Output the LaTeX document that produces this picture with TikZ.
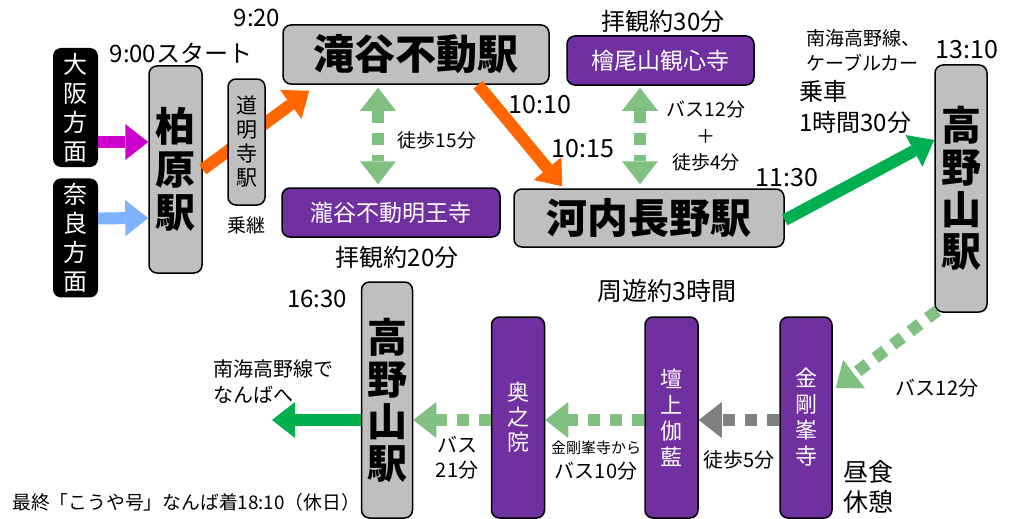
\documentclass[tikz,border=0pt]{standalone}
\usepackage{fontspec}
\setmainfont{Noto Sans CJK JP}
\usetikzlibrary{arrows.meta,positioning}

\definecolor{stngray}{HTML}{BFBFBF}
\definecolor{tmplpurple}{HTML}{7030A0}
\definecolor{arrorange}{HTML}{FF6600}
\definecolor{arrgreen}{HTML}{00B050}
\definecolor{arrlight}{HTML}{80C080}
\definecolor{arrgray}{HTML}{808080}
\definecolor{arrmag}{HTML}{CC00CC}
\definecolor{arrblue}{HTML}{7EB2FF}

\newcommand\fsz[2]{\fontsize{#1}{#2}\selectfont}

\tikzset{
  bigtip/.tip={Triangle[length=23pt,width=36pt,line width=0pt]},
  stn/.style={draw, line width=1.5pt, fill=stngray, rounded corners=8pt, inner sep=0pt, align=center},
  tmpl/.style={draw, line width=1.5pt, fill=tmplpurple, text=white, rounded corners=8pt, inner sep=0pt, align=center},
  dirbox/.style={fill=black, text=white, rounded corners=8pt, inner sep=0pt, align=center},
  lbl/.style={inner sep=0pt},
  fat/.style={line width=12pt, -bigtip},
  dots/.style={fat, dash pattern=on 12pt off 10pt},
  twoway/.style={line width=12pt, bigtip-bigtip, dash pattern=on 12pt off 10pt, arrlight},
}

\begin{document}
\begin{tikzpicture}[x=1pt, y=-1pt]
  \useasboundingbox (0,0) rectangle (1009,519);

  % boxes
  \node[dirbox, minimum width=45pt, minimum height=119pt, font=\fsz{24}{29}] (Osaka) at (75.5,107.5) {大\\阪\\方\\面};
  \node[dirbox, minimum width=45pt, minimum height=119pt, font=\fsz{24}{29}] (Nara) [below=11pt of Osaka] {奈\\良\\方\\面};
  \node[stn, minimum width=53pt, minimum height=207pt, font=\fsz{40}{43}\bfseries] (Kash) at (175.5,169.5) {柏\\原\\駅};
  \node[stn, minimum width=266pt, minimum height=59pt, font=\fsz{41}{41}\bfseries] (Taki) at (416,54.5) {滝谷不動駅};
  \node[tmpl, minimum width=218pt, minimum height=49pt, font=\fsz{23}{23}] (TakiT) at (391,212.5) {瀧谷不動明王寺};
  \node[tmpl, minimum width=187pt, minimum height=49pt, font=\fsz{23}{23}] (Kan) at (660.5,60.5) {檜尾山観心寺};
  \node[stn, minimum width=270pt, minimum height=58pt, font=\fsz{41}{41}\bfseries] (Kawa) at (649,218) {河内長野駅};
  \node[stn, minimum width=52pt, minimum height=247pt, font=\fsz{40}{42}\bfseries] (Koya) at (961,188.5) {高\\野\\山\\駅};
  \node[stn, minimum width=51pt, minimum height=236pt, font=\fsz{40}{42}\bfseries] (KoyaB) at (387,400) {高\\野\\山\\駅};
  \node[tmpl, minimum width=53pt, minimum height=201pt, font=\fsz{22}{25}] (Okun) at (518,417.5) {奥\\之\\院};
  \node[tmpl, minimum width=53pt, minimum height=201pt, font=\fsz{22}{26}] (Danjo) at (671.5,417.5) {壇\\上\\伽\\藍};
  \node[tmpl, minimum width=52pt, minimum height=201pt, font=\fsz{22}{26}] (Kongo) at (806,417.5) {金\\剛\\峯\\寺};
  \coordinate (Namba) at (272,420);

  % connectors
  \path ([yshift=-34.5pt]Osaka.east) edge[fat, arrmag] ([yshift=27.5pt]Kash.west)
        ([yshift=19.5pt]Nara.east)   edge[fat, arrblue] ([yshift=-48.5pt]Kash.west)
        (Kash.east) edge[fat, arrorange] ([xshift=27pt,yshift=-6pt]Taki.south west)
        ([xshift=62pt]Taki.south) edge[fat, arrorange] ([xshift=49pt,yshift=2pt]Kawa.north west)
        ([xshift=-38pt,yshift=-3pt]Taki.south) edge[twoway] ([xshift=-13pt,yshift=3pt]TakiT.north)
        ([xshift=-20.5pt,yshift=-2pt]Kan.south) edge[twoway] ([xshift=-9pt,yshift=4pt]Kawa.north)
        ([yshift=-2pt]Kawa.east) edge[fat, arrgreen] ([yshift=48.5pt]Koya.west)
        ([xshift=3pt,yshift=2pt]Koya.south west) edge[dots, arrlight] ([xshift=3pt,yshift=29.5pt]Kongo.east)
        ([yshift=-2.5pt]Kongo.west) edge[dots, arrgray] ([yshift=-2.5pt]Danjo.east)
        ([yshift=-2.5pt]Danjo.west) edge[dots, arrlight] ([yshift=-2.5pt]Okun.east)
        ([yshift=-2.5pt]Okun.west) edge[dots, arrlight] ([yshift=-20pt]KoyaB.east)
        ([yshift=-20pt]KoyaB.west) edge[fat, arrgreen] (Namba);

  \node[stn, minimum width=37pt, minimum height=126pt, font=\fsz{21}{24}] (Domy) at (246.5,142) {道\\明\\寺\\駅};

  % times and notes
  \node[lbl, font=\fsz{24}{24}] (t920) at (257,18) {9:20};
  \node[lbl, font=\fsz{24}{24}] (tStart) at (181,53) {9:00スタート};
  \node[lbl, font=\fsz{19}{19}] (trans) [below=11pt of Domy] {乗継};
  \node[lbl, font=\fsz{19}{19}] (walk15) at (437,140) {徒歩15分};
  \node[lbl, font=\fsz{24}{24}] (visit20) at (397,257) {拝観約20分};
  \node[lbl, font=\fsz{25}{25}] (t1010) at (540,105) {10:10};
  \node[lbl, font=\fsz{25}{25}] (t1015) at (583,149) {10:15};
  \node[lbl, font=\fsz{24}{24}] (visit30) at (663,21) {拝観約30分};
  \node[lbl, font=\fsz{19}{26.5}, align=center] (bus12a) at (706,136.5) {バス12分\\＋\\徒歩4分};
  \node[lbl, font=\fsz{25}{25}] (t1130) at (787,178) {11:30};
  \node[lbl, font=\fsz{19}{25}, align=left, anchor=west] (cable) at (806,50.5) {南海高野線、\\ケーブルカー};
  \node[lbl, font=\fsz{24}{31}, align=left, anchor=west] (ride) at (799,106.5) {乗車\\1時間30分};
  \node[lbl, font=\fsz{25}{25}] (t1310) at (967,50) {13:10};
  \node[lbl, font=\fsz{25}{25}] (tour) at (667,291) {周遊約3時間};
  \node[lbl, font=\fsz{24}{24}] (t1630) at (317,299) {16:30};
  \node[lbl, font=\fsz{20}{26}, align=left, anchor=west] (toNamba) at (213,382) {南海高野線で\\なんばへ};
  \node[lbl, font=\fsz{20}{25}, align=center] (bus21) at (457,457.5) {バス\\21分};
  \node[lbl, font=\fsz{15}{15}] (fromKongo) at (596,448) {金剛峯寺から};
  \node[lbl, font=\fsz{20}{20}] (bus10) at (596,471) {バス10分};
  \node[lbl, font=\fsz{20}{20}] (walk5) at (739,460) {徒歩5分};
  \node[lbl, font=\fsz{25}{30}, align=center] (lunch) at (868,487) {昼食\\休憩};
  \node[lbl, font=\fsz{20}{20}] (bus12b) at (937,388) {バス12分};
  \node[lbl, font=\fsz{18.8}{18.8}, anchor=west] (last) at (12,502) {最終「こうや号」なんば着18:10（休日）};
\end{tikzpicture}
\end{document}
